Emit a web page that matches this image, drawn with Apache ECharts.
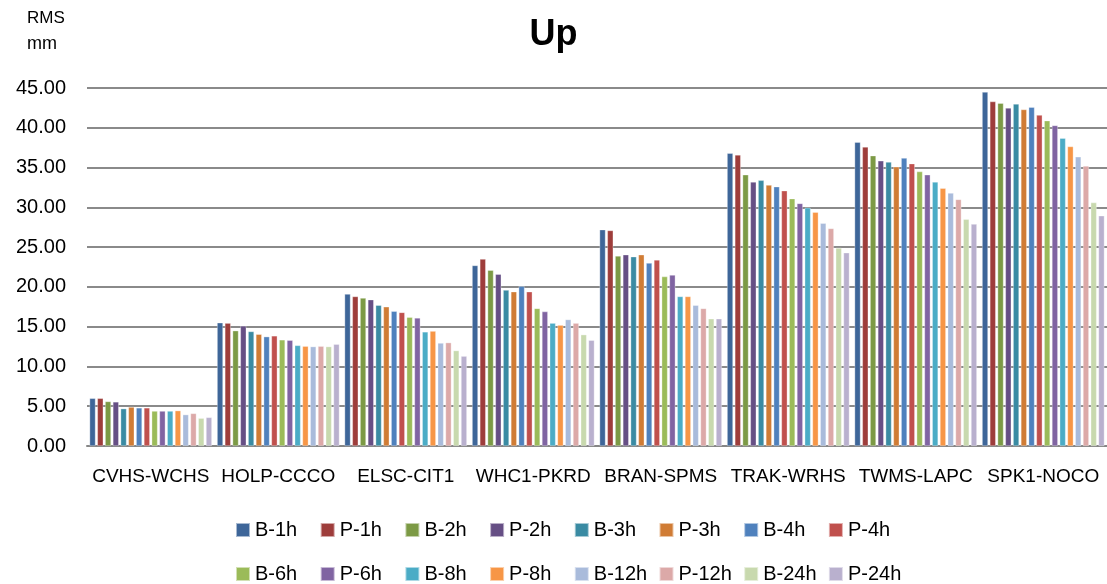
<!DOCTYPE html>
<html>
<head>
<meta charset="utf-8">
<script src="https://cdn.jsdelivr.net/npm/echarts@6/dist/echarts.min.js"></script>
<style>
html,body{margin:0;padding:0;background:#fff;}
#chart{width:1107px;height:584px;}
</style>
</head>
<body>
<div id="chart"></div>
<script>
var categories = ['CVHS-WCHS','HOLP-CCCO','ELSC-CIT1','WHC1-PKRD','BRAN-SPMS','TRAK-WRHS','TWMS-LAPC','SPK1-NOCO'];
var seriesNames = ['B-1h','P-1h','B-2h','P-2h','B-3h','P-3h','B-4h','P-4h','B-6h','P-6h','B-8h','P-8h','B-12h','P-12h','B-24h','P-24h'];
var yTicks = [0,5,10,15,20,25,30,35,40,45];

var b1h  = [6.0, 15.5, 19.1, 22.7, 27.2, 36.8, 38.2, 44.5];
var p1h  = [6.0, 15.45, 18.8, 23.5, 27.1, 36.6, 37.6, 43.3];
var b2h  = [5.6, 14.5, 18.6, 22.1, 23.9, 34.1, 36.5, 43.1];
var p2h  = [5.55, 15.1, 18.4, 21.6, 24.05, 33.2, 35.85, 42.5];
var b3h  = [4.7, 14.4, 17.7, 19.6, 23.8, 33.4, 35.7, 43.0];
var p3h  = [4.9, 14.05, 17.5, 19.4, 24.05, 32.8, 35.1, 42.3];
var b4h  = [4.8, 13.75, 16.95, 20.1, 23.0, 32.6, 36.2, 42.6];
var p4h  = [4.8, 13.85, 16.8, 19.4, 23.4, 32.1, 35.5, 41.6];
var b6h  = [4.4, 13.35, 16.2, 17.3, 21.3, 31.1, 34.5, 40.9];
var p6h  = [4.4, 13.3, 16.1, 16.9, 21.5, 30.5, 34.1, 40.3];
var b8h  = [4.4, 12.65, 14.35, 15.45, 18.8, 29.95, 33.2, 38.7];
var p8h  = [4.45, 12.55, 14.45, 15.2, 18.8, 29.4, 32.4, 37.65];
var b12h = [3.95, 12.5, 12.95, 15.9, 17.7, 28.0, 31.8, 36.35];
var p12h = [4.1, 12.55, 13.0, 15.45, 17.3, 27.35, 31.0, 35.2];
var b24h = [3.5, 12.5, 12.0, 14.0, 16.0, 24.9, 28.5, 30.6];
var p24h = [3.6, 12.8, 11.3, 13.3, 16.0, 24.3, 27.9, 28.95];

var seriesValues = [b1h,p1h,b2h,p2h,b3h,p3h,b4h,p4h,b6h,p6h,b8h,p8h,b12h,p12h,b24h,p24h];
var colors = ['#3E6699','#9E3D3B','#7C9A45','#664F85','#3A8BA3','#D07C35',
              '#4F81BD','#C0504D','#9BBB59','#8064A2','#4BACC6','#F79646',
              '#A9BBDB','#DCA9A8','#C8D9AE','#B9B0CE'];

var FONT = '"Liberation Sans", Arial, sans-serif';

var chart = echarts.init(document.getElementById('chart'));

var series = seriesNames.map(function(n, i){
  return {
    name: n,
    type: 'bar',
    data: seriesValues[i],
    barGap: '30%',
    barCategoryGap: '4%',
    itemStyle: { color: colors[i], borderColor: 'rgba(255,255,255,0.55)', borderWidth: 0.6 },
    animation: false
  };
});

// one legend per item, laid out on a fixed-pitch 8 x 2 grid
var legends = seriesNames.map(function(n, i){
  var col = i % 8, row = Math.floor(i / 8);
  return {
    data: [n],
    left: 230 + col * 84.7,
    top: 515 + row * 44,
    padding: 5,
    icon: 'rect',
    itemWidth: 14,
    itemHeight: 14,
    selectedMode: false,
    textStyle: { fontFamily: FONT, fontSize: 20, color: '#000' }
  };
});

var option = {
  backgroundColor: '#fff',
  animation: false,
  color: colors,
  title: {
    text: 'Up',
    left: 'center',
    top: 12,
    textStyle: { fontFamily: FONT, fontSize: 36, fontWeight: 'bold', color: '#000' }
  },
  legend: legends,
  grid: { left: 87, right: 0, top: 88, bottom: 138, containLabel: false },
  xAxis: {
    type: 'category',
    data: categories,
    axisLine: { show: true, lineStyle: { color: '#868686', width: 2 } },
    axisTick: { show: false },
    axisLabel: { fontFamily: FONT, fontSize: 19, color: '#000', margin: 21, interval: 0 }
  },
  yAxis: {
    type: 'value',
    min: yTicks[0],
    max: yTicks[yTicks.length - 1],
    interval: 5,
    axisLine: { show: false },
    axisTick: { show: false },
    splitLine: { show: true, lineStyle: { color: '#8a8a8a', width: 2 } },
    axisLabel: {
      fontFamily: FONT, fontSize: 20, color: '#000', margin: 21,
      formatter: function(v){ return v.toFixed(2); }
    }
  },
  graphic: [
    { type: 'text', left: 27, top: 10, style: { text: 'RMS', fontFamily: FONT, fontSize: 17, fill: '#000' } },
    { type: 'text', left: 27, top: 35, style: { text: 'mm', fontFamily: FONT, fontSize: 18, fill: '#000' } }
  ],
  series: series
};

chart.setOption(option);
</script>
</body>
</html>
